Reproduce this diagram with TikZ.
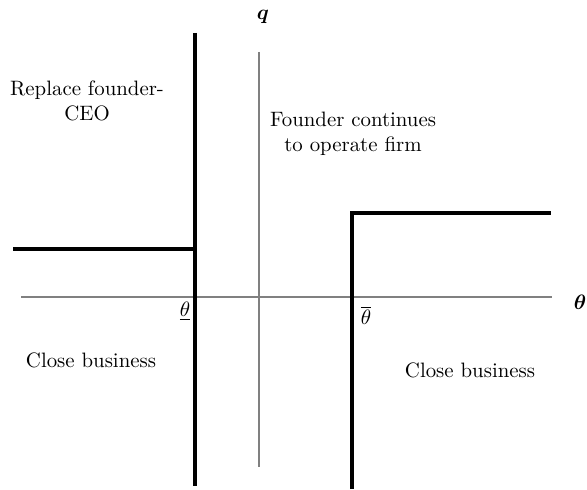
\documentclass[tikz,border=0pt]{standalone}
\usepackage{amsmath,amssymb}
\usepackage{bm}
\usetikzlibrary{positioning,calc}

\tikzset{
  axisline/.style={draw=black!50, line width=1pt},
  bound/.style={draw=black, line width=1.5pt},
  region/.style={font=\normalsize, align=center, inner sep=0pt}
}

\begin{document}
\begin{tikzpicture}[x=0.48pt,y=-0.48pt]
\useasboundingbox (0,0) rectangle (587,489);
% Axes
\coordinate (qtop) at (259,52);
\coordinate (qbot) at (259,467);
\coordinate (tleft) at (21,297);
\coordinate (tright) at (552,297);
\draw[axisline] (qtop) -- (qbot);
\draw[axisline] (tleft) -- (tright);
\node[inner sep=0pt] (qlab) at (263,17) {$\bm{q}$};
\node[inner sep=0pt] (tlab) at (580,302) {$\bm{\theta}$};
% Lower threshold
\coordinate (lotop) at (195,33);
\coordinate (lobot) at (195,486);
\coordinate (lostep) at (195,249);
\coordinate (loleft) at (13,249);
\draw[bound] (lotop) -- (lobot);
\draw[bound] (loleft) -- (lostep);
% Upper threshold
\coordinate (hibot) at (352,489);
\coordinate (hicorner) at (352,213);
\coordinate (hiright) at (551,213);
\draw[bound, line join=miter] (hibot) -- (hicorner) -- (hiright);
% Threshold labels
\node[inner sep=0pt] (thlo) at (185,311) {$\underline{\theta}$};
\node[inner sep=0pt] (thhi) at (366,315) {$\overline{\theta}$};
% Regions
\node[region] (replace) at (87,101) {Replace founder-\\CEO};
\node[region] (cont) at (353,134) {Founder continues\\to operate firm};
\node[region] (closelo) at (91,360) {Close business};
\node[region] (closehi) at (470,370) {Close business};
\end{tikzpicture}
\end{document}
